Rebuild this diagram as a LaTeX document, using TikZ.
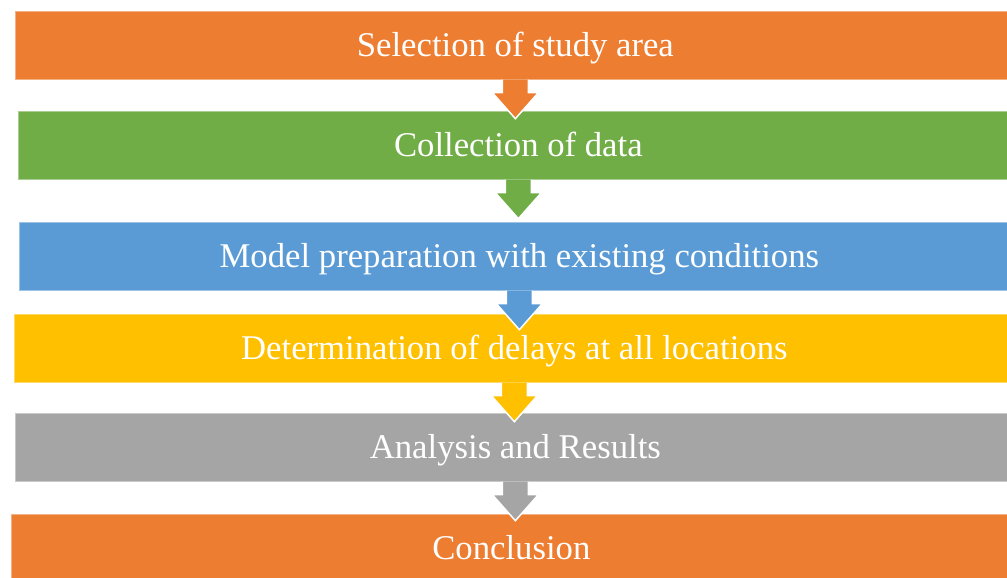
\documentclass[tikz,border=0pt]{standalone}
\usepackage{fontspec}
\setmainfont{Liberation Serif}
\usetikzlibrary{positioning, calc}
\definecolor{flowOrange}{HTML}{ED7D31}
\definecolor{flowGreen}{HTML}{70AD47}
\definecolor{flowBlue}{HTML}{5B9BD5}
\definecolor{flowYellow}{HTML}{FFC000}
\definecolor{flowGray}{HTML}{A5A5A5}
\tikzset{stage node/.style={rectangle, fill=#1, draw=#1!60!white, line width=0.7pt, anchor=north west, minimum width=1000pt, minimum height=68pt, inner sep=0pt, text=white, font=\fontsize{34.7}{40}\selectfont, text height=25pt, text depth=3pt},}
\tikzset{stage arrow/.style={fill=#1, draw=white, line width=1.5pt, line join=miter},}
\newcommand{\flowarrow}[2]{%
  \path[stage arrow=#2] ($(#1.south)+(-13,0)$) -- ($(#1.south)+(-13,-13)$) -- ($(#1.south)+(-23,-13)$)
    -- ($(#1.south)+(0,-39)$) -- ($(#1.south)+(23,-13)$) -- ($(#1.south)+(13,-13)$) -- ($(#1.south)+(13,0)$);}

\begin{document}
\begin{tikzpicture}[x=1pt, y=1pt]
				\useasboundingbox (0,0) rectangle (1007,578);
				\clip (0,0) rectangle (1007,578);
				% Boxes
				\node[stage node=flowOrange] (1) at (15,567) {Selection of study area};
				\node[stage node=flowGreen] (2) at (18,467) {Collection of data};
				\node[stage node=flowBlue] (3) at (19,356) {Model preparation with existing conditions};
				\node[stage node=flowYellow] (4) at (14,264) {Determination of delays at all locations};
				\node[stage node=flowGray] (5) at (15,165) {Analysis and Results};
				\node[stage node=flowOrange] (6) at (11,64) {Conclusion};
				% Arrows
				\flowarrow{1}{flowOrange}
				\flowarrow{2}{flowGreen}
				\flowarrow{3}{flowBlue}
				\flowarrow{4}{flowYellow}
				\flowarrow{5}{flowGray}
			\end{tikzpicture}
\end{document}
